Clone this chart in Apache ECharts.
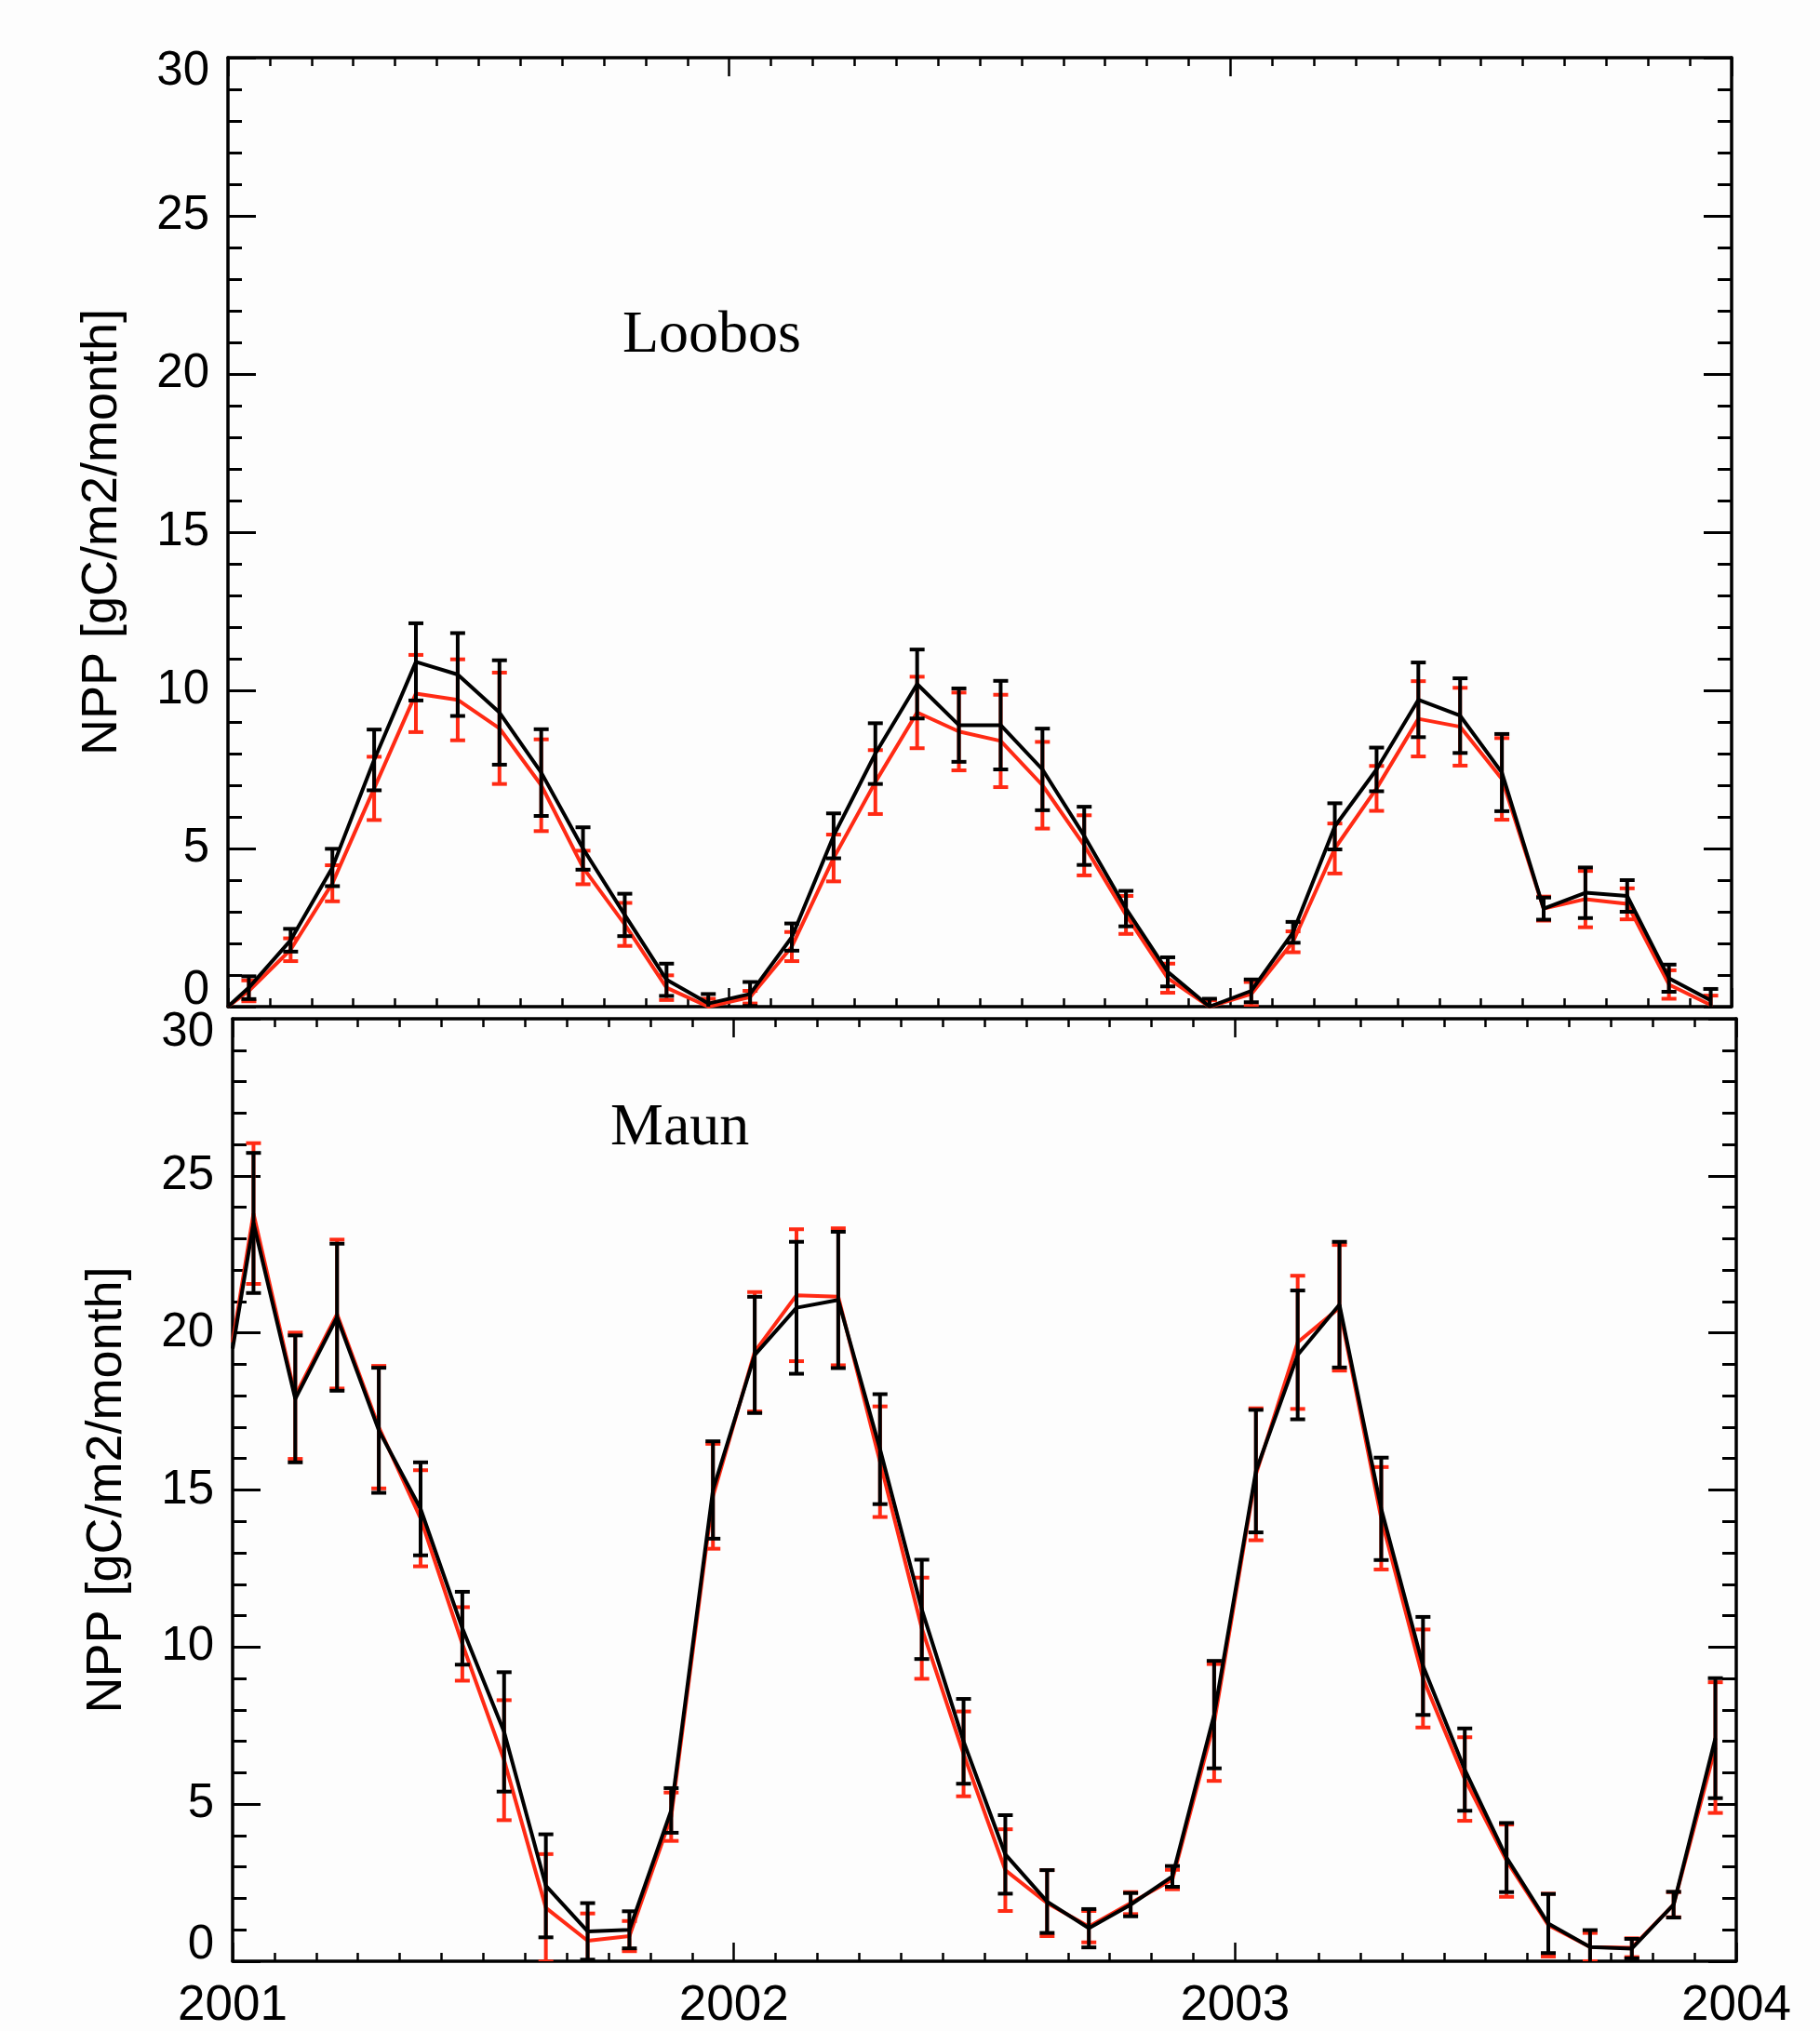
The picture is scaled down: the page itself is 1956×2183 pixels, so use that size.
<!DOCTYPE html>
<html>
<head>
<meta charset="utf-8">
<script src="https://cdn.jsdelivr.net/npm/echarts@6/dist/echarts.min.js"></script>
<style>
  html, body { margin: 0; padding: 0; background: #fdfdfd; }
  #chart { width: 1956px; height: 2183px; }
</style>
</head>
<body>
<div id="chart"></div>
<script>
// months since Jan 2001 (mid-month points)
const months = [0.5, 1.5, 2.5, 3.5, 4.5, 5.5, 6.5, 7.5, 8.5, 9.5, 10.5, 11.5,
  12.5, 13.5, 14.5, 15.5, 16.5, 17.5, 18.5, 19.5, 20.5, 21.5, 22.5, 23.5,
  24.5, 25.5, 26.5, 27.5, 28.5, 29.5, 30.5, 31.5, 32.5, 33.5, 34.5, 35.5];
const yearLabels = ['2001', '2002', '2003', '2004'];

// Loobos
const loobosStart = [0.0, 0.0]; // black, red at left edge
const loobosBlack = [0.6, 2.1, 4.4, 7.8, 10.9, 10.5, 9.3, 7.4, 5.0, 2.9, 0.85, 0.1,
  0.4, 2.2, 5.4, 8.0, 10.2, 8.9, 8.9, 7.5, 5.4, 3.1, 1.1, 0.0,
  0.5, 2.35, 5.7, 7.5, 9.7, 9.2, 7.4, 3.1, 3.6, 3.5, 0.9, 0.2];
const loobosBlackErr = [0.36, 0.36, 0.59, 0.96, 1.22, 1.31, 1.65, 1.37, 0.67, 0.67, 0.51, 0.3,
  0.38, 0.43, 0.71, 0.96, 1.09, 1.16, 1.4, 1.29, 0.92, 0.56, 0.46, 0.25,
  0.36, 0.33, 0.73, 0.69, 1.18, 1.18, 1.22, 0.35, 0.8, 0.5, 0.43, 0.36];
const loobosRed = [0.5, 1.8, 3.9, 6.9, 9.9, 9.7, 8.8, 7.0, 4.4, 2.6, 0.6, 0.0,
  0.3, 1.9, 4.7, 7.1, 9.3, 8.7, 8.4, 7.0, 5.1, 2.9, 0.9, 0.0,
  0.4, 2.05, 5.0, 6.9, 9.1, 8.85, 7.2, 3.1, 3.4, 3.25, 0.7, 0.05];
const loobosRedErr = [0.33, 0.36, 0.57, 1.0, 1.22, 1.28, 1.76, 1.45, 0.53, 0.68, 0.39, 0.25,
  0.2, 0.46, 0.74, 1.01, 1.13, 1.23, 1.46, 1.37, 0.95, 0.6, 0.46, 0.2,
  0.38, 0.33, 0.79, 0.71, 1.19, 1.23, 1.29, 0.38, 0.89, 0.49, 0.45, 0.3];

// Maun
const maunStart = [19.5, 19.7];
const maunBlack = [23.5, 17.9, 20.5, 16.9, 14.4, 10.6, 7.3, 2.4, 0.95, 1.0, 4.8, 15.0,
  19.3, 20.8, 21.05, 16.3, 11.2, 7.0, 3.4, 1.9, 1.05, 1.8, 2.7, 7.85,
  15.6, 19.3, 20.9, 14.4, 9.4, 6.1, 3.3, 1.2, 0.45, 0.4, 1.8, 7.1];
const maunBlackErr = [2.23, 2.02, 2.34, 1.99, 1.48, 1.16, 1.9, 1.64, 0.9, 0.59, 0.71, 1.55,
  1.85, 2.1, 2.17, 1.75, 1.58, 1.35, 1.25, 1.0, 0.61, 0.37, 0.33, 1.71,
  1.95, 2.05, 2.0, 1.63, 1.56, 1.31, 1.1, 0.94, 0.54, 0.31, 0.41, 1.91];
const maunRed = [23.8, 18.0, 20.6, 17.0, 14.1, 10.1, 6.4, 1.7, 0.65, 0.8, 4.6, 14.8,
  19.4, 21.2, 21.15, 15.9, 10.6, 6.6, 2.9, 1.85, 1.1, 1.85, 2.6, 7.6,
  15.5, 19.7, 20.8, 14.1, 9.0, 5.8, 3.2, 1.15, 0.45, 0.43, 1.8, 6.8];
const maunRedErr = [2.24, 2.01, 2.37, 1.95, 1.53, 1.17, 1.91, 1.71, 0.87, 0.48, 0.77, 1.67,
  1.9, 2.1, 2.18, 1.76, 1.61, 1.35, 1.3, 1.05, 0.5, 0.35, 0.31, 1.86,
  2.1, 2.12, 2.0, 1.63, 1.56, 1.33, 1.15, 1.0, 0.45, 0.3, 0.4, 2.08];

const RED = '#ff2a14';
const BLACK = '#000000';
const sans = 'Liberation Sans';

function linePts(start, vals) {
  const out = [[0, start]];
  for (let i = 0; i < months.length; i++) out.push([months[i], vals[i]]);
  return out;
}
function errPts(vals, errs) {
  return months.map((m, i) => [m, vals[i] - errs[i], vals[i] + errs[i]]);
}
function errRender(color) {
  return function (params, api) {
    const x = api.value(0);
    const lo = api.coord([x, api.value(1)]);
    const hi = api.coord([x, api.value(2)]);
    const cap = 8;
    const style = { stroke: color, lineWidth: 4 };
    return {
      type: 'group',
      children: [
        { type: 'line', shape: { x1: lo[0], y1: lo[1], x2: hi[0], y2: hi[1] }, style },
        { type: 'line', shape: { x1: lo[0] - cap, y1: lo[1], x2: lo[0] + cap, y2: lo[1] }, style },
        { type: 'line', shape: { x1: hi[0] - cap, y1: hi[1], x2: hi[0] + cap, y2: hi[1] }, style }
      ]
    };
  };
}

function xAxis(gridIndex, position, showLabels) {
  return {
    type: 'value', gridIndex, position, min: 0, max: 36, interval: 12,
    axisLine: { show: true, onZero: false, lineStyle: { color: BLACK, width: 3.5 } },
    axisTick: { show: true, inside: true, length: 20, lineStyle: { color: BLACK, width: 2.5 } },
    minorTick: { show: true, splitNumber: 12, length: 9, lineStyle: { color: BLACK, width: 2.5 } },
    splitLine: { show: false },
    axisLabel: {
      show: showLabels, margin: 22, color: BLACK, fontFamily: sans, fontSize: 53,
      showMinLabel: true, showMaxLabel: true,
      formatter: v => yearLabels[Math.round(v / 12)]
    }
  };
}
function yAxis(gridIndex, position, showLabels) {
  return {
    type: 'value', gridIndex, position, min: 0, max: 30, interval: 5,
    name: showLabels ? 'NPP [gC/m2/month]' : '',
    nameLocation: 'middle', nameGap: 108,
    nameTextStyle: { color: BLACK, fontFamily: sans, fontSize: 54 },
    axisLine: { show: true, onZero: false, lineStyle: { color: BLACK, width: 3.5 } },
    axisTick: { show: true, inside: true, length: 30, lineStyle: { color: BLACK, width: 3 } },
    minorTick: { show: true, splitNumber: 5, length: 15, lineStyle: { color: BLACK, width: 3 } },
    splitLine: { show: false },
    axisLabel: {
      show: showLabels, margin: 20, color: BLACK, fontFamily: sans, fontSize: 51,
      formatter: v => v === 30 ? '{hi|30}' : (v === 0 ? '{lo|0}' : String(v)),
      rich: {
        hi: { fontSize: 51, fontFamily: sans, color: BLACK, padding: [30, 0, 0, 0] },
        lo: { fontSize: 51, fontFamily: sans, color: BLACK, padding: [0, 0, 34, 0] }
      }
    }
  };
}

function panelSeries(xi, yi, start, black, blackErr, red, redErr) {
  return [
    { type: 'line', xAxisIndex: xi, yAxisIndex: yi, data: linePts(start[1], red), symbol: 'none',
      clip: true, lineStyle: { color: RED, width: 4 }, z: 2, animation: false },
    { type: 'custom', xAxisIndex: xi, yAxisIndex: yi, data: errPts(red, redErr), clip: true,
      renderItem: errRender(RED), encode: { x: 0, y: [1, 2] }, z: 3, animation: false },
    { type: 'line', xAxisIndex: xi, yAxisIndex: yi, data: linePts(start[0], black), symbol: 'none',
      clip: true, lineStyle: { color: BLACK, width: 4 }, z: 4, animation: false },
    { type: 'custom', xAxisIndex: xi, yAxisIndex: yi, data: errPts(black, blackErr), clip: true,
      renderItem: errRender(BLACK), encode: { x: 0, y: [1, 2] }, z: 5, animation: false }
  ];
}

const chart = echarts.init(document.getElementById('chart'));
const option = {
  backgroundColor: '#fdfdfd',
  animation: false,
  grid: [
    { left: 245, top: 62, width: 1616, height: 1020 },
    { left: 250, top: 1095, width: 1616, height: 1019 }
  ],
  xAxis: [
    xAxis(0, 'bottom', false), xAxis(0, 'top', false),
    xAxis(1, 'bottom', true), xAxis(1, 'top', false)
  ],
  yAxis: [
    yAxis(0, 'left', true), yAxis(0, 'right', false),
    yAxis(1, 'left', true), yAxis(1, 'right', false)
  ],
  graphic: [
    { type: 'text', x: 669, y: 361, z: 10,
      style: { text: 'Loobos', font: '64px "Liberation Serif"', fill: BLACK, align: 'left', verticalAlign: 'middle' } },
    { type: 'text', x: 656, y: 1213, z: 10,
      style: { text: 'Maun', font: '64px "Liberation Serif"', fill: BLACK, align: 'left', verticalAlign: 'middle' } }
  ],
  series: [
    ...panelSeries(0, 0, loobosStart, loobosBlack, loobosBlackErr, loobosRed, loobosRedErr),
    ...panelSeries(2, 2, maunStart, maunBlack, maunBlackErr, maunRed, maunRedErr)
  ]
};
chart.setOption(option);
</script>
</body>
</html>
